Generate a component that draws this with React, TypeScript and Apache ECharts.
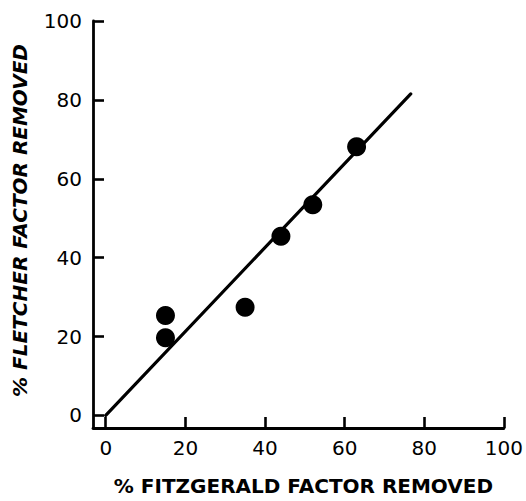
import React, { useEffect, useRef } from "react";
import * as echarts from "echarts";

const xTicks = [0, 20, 40, 60, 80, 100];
const yTicks = [0, 20, 40, 60, 80, 100];
const fitzgeraldRemoved = [15, 15, 35, 44, 52, 63];
const fletcherRemoved = [25.3, 19.7, 27.4, 45.4, 53.4, 68.1];
const fitLineX = [0, 76.6];
const fitLineY = [0, 81.5];
const xTitle = "% FITZGERALD FACTOR REMOVED";
const yTitle = "% FLETCHER FACTOR REMOVED";

export default function App() {
  const ref = useRef<HTMLDivElement>(null);
  useEffect(() => {
    if (!ref.current) return;
    const chart = echarts.init(ref.current, null, { renderer: "svg" });
    const font = "'DejaVu Sans', sans-serif";
    const axisCommon = {
      type: "value",
      min: -3.2,
      max: 100,
      splitLine: { show: false },
      axisLine: { show: true, onZero: false, lineStyle: { color: "#000", width: 2.8 } },
      axisTick: {
        show: true,
        inside: true,
        length: 11,
        lineStyle: { color: "#000", width: 2.6 },
      },
    };
    chart.setOption({
      animation: false,
      backgroundColor: "#fff",
      grid: { left: 93, right: 19, top: 21, bottom: 68, containLabel: false },
      xAxis: {
        ...axisCommon,
        axisTick: { ...axisCommon.axisTick, customValues: xTicks },
        axisLabel: {
          customValues: xTicks,
          color: "#000",
          fontFamily: font,
          fontSize: 20,
          margin: 10,
        },
        name: xTitle,
        nameLocation: "middle",
        nameGap: 48,
        nameTextStyle: {
          color: "#000",
          fontFamily: font,
          fontWeight: "bold",
          fontSize: 20,
          padding: [0, 0, 0, 10],
        },
      },
      yAxis: {
        ...axisCommon,
        axisTick: { ...axisCommon.axisTick, customValues: yTicks },
        axisLabel: {
          customValues: yTicks,
          color: "#000",
          fontFamily: font,
          fontSize: 20,
          margin: 11,
        },
        name: yTitle,
        nameLocation: "middle",
        nameGap: 63,
        nameTextStyle: {
          color: "#000",
          fontFamily: font,
          fontWeight: "bold",
          fontStyle: "italic",
          fontSize: 20,
          padding: [0, 0, 0, 8],
        },
      },
      series: [
        {
          type: "line",
          data: fitLineX.map((x, i) => [x, fitLineY[i]]),
          symbol: "none",
          lineStyle: { color: "#000", width: 3.2, cap: "round" },
          z: 2,
        },
        {
          type: "scatter",
          data: fitzgeraldRemoved.map((x, i) => [x, fletcherRemoved[i]]),
          symbol: "circle",
          symbolSize: 19,
          itemStyle: { color: "#000", opacity: 1 },
          z: 3,
        },
      ],
    });
    return () => chart.dispose();
  }, []);
  return (
    <div
      ref={ref}
      style={{ position: "fixed", left: 0, top: 0, width: 526, height: 501 }}
    />
  );
}
